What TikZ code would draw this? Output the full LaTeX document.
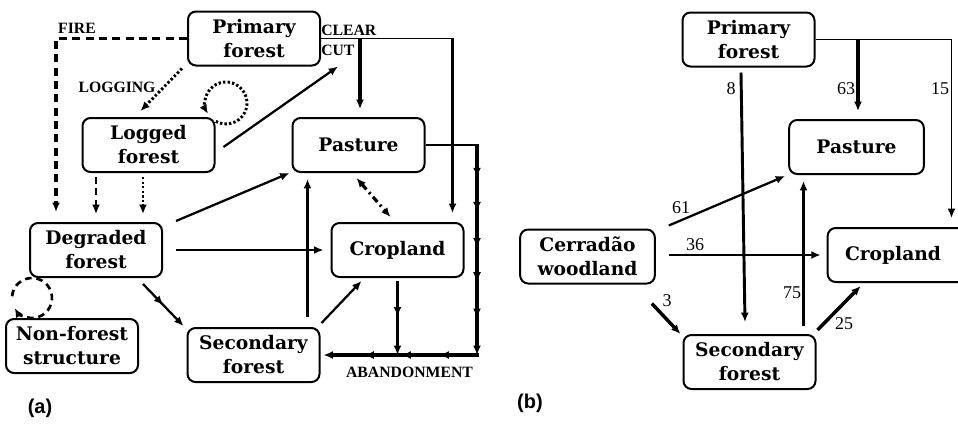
\documentclass[tikz,border=0pt]{standalone}
\usepackage{fontspec}
\setmainfont{Liberation Serif}
\newfontfamily\boxfont{DejaVu Serif}
\newfontfamily\labsans{Liberation Sans}
\usetikzlibrary{arrows.meta,calc,decorations.markings}
\begin{document}
\begin{tikzpicture}[x=0.75pt,y=-0.75pt,
  box/.style={draw,line width=1.5pt,rounded corners=6pt,minimum width=99pt,minimum height=40.5pt,align=center,inner sep=0pt,font=\boxfont\bfseries\fontsize{14}{18}\selectfont},
  lab/.style={inner sep=0pt,font=\bfseries\fontsize{11.8}{12}\selectfont},
  num/.style={inner sep=0pt,font=\fontsize{13.5}{14}\selectfont},
  plab/.style={inner sep=0pt,font=\labsans\bfseries\fontsize{15}{16}\selectfont},
  arr/.style={-{Latex[length=7pt,width=6pt]}},
  arrs/.style={{Latex[length=7pt,width=6pt]}-{Latex[length=7pt,width=6pt]}},
  thinline/.style={line width=1.4pt},
  midline/.style={line width=1.7pt},
  thickline/.style={line width=2.6pt},
  fireline/.style={line width=2.6pt,dash pattern=on 6pt off 4pt},
  dashline/.style={line width=2pt,dash pattern=on 5pt off 3.5pt},
  dotline/.style={line width=2.2pt,dash pattern=on 1.8pt off 1.6pt},
  dashdotline/.style={line width=2.4pt,dash pattern=on 5pt off 3pt on 1.5pt off 3pt},
  midmark/.style={postaction={decorate},decoration={markings,mark=at position #1 with {\arrow{Latex[length=7pt,width=6pt]}}}}
]
\useasboundingbox (0,0) rectangle (958,426);

% ---------- panel (a) ----------
\node[box] (PF) at (254,38.5) {Primary\\forest};
\node[box] (LF) at (148.5,145) {Logged\\forest};
\node[box] (PA) at (358.5,145) {Pasture};
\node[box] (DF) at (96,250) {Degraded\\forest};
\node[box] (CP) at (397.5,250) {Cropland};
\node[box] (NF) at (72,346) {Non-forest\\structure};
\node[box] (SF) at (253.5,355) {Secondary\\forest};

\node[lab] (tFire) at (77,28) {FIRE};
\node[lab] (tLog) at (117,87) {LOGGING};
\node[lab,anchor=west] (tClear) at (321,30) {CLEAR};
\node[lab,anchor=west] (tCut) at (321,50) {CUT};
\node[lab] (tAb) at (409.5,372) {ABANDONMENT};
\node[plab] (ta) at (40,408) {(a)};

% fire
\draw[fireline,arr] (PF.west) -| ($(DF.north west)+(27,-10)$);
% logging
\draw[dotline,arr] ($(PF.south west)+(-5,2)$) -- ($(LF.north)+(-8,-6)$);
% dotted self loop
\coordinate (lpL) at (226,103);
\draw[dotline,arr] ($(lpL)+(119:21)$) arc[start angle=119,end angle=-211,radius=21];
% logged -> clear cut
\draw[midline,arr] ($(LF.east)+(8,2)$) -- ($(PF.south east)+(17,0)$);
% clear cut
\coordinate (ccB) at ($(CP.north east)+(-12,-9)$);
\coordinate (ccR) at (ccB |- PF.east);
\draw[thinline] (PF.east) -- (ccR);
\draw[thickline,arr] ($(ccR)+(0,-1)$) -- (ccB);
\coordinate (ppB) at ($(PA.north)+(1.5,-8)$);
\draw[thickline,arr] (ppB |- PF.east) -- (ppB);
% logged -> degraded
\coordinate (d1) at ($(DF.north)+(0,-8)$);
\draw[dashline,arr,shorten <=3pt] (d1 |- LF.south) -- (d1);
\coordinate (d2) at ($(DF.north)+(47,-8)$);
\draw[dotline,arr,shorten <=3pt] (d2 |- LF.south) -- (d2);
% non-forest dashed loop
\coordinate (lpN) at (32,298);
\draw[dashline,arr] ($(lpN)+(-175:20)$) arc[start angle=-175,end angle=150,radius=20];
% degraded -> others
\draw[midline,arr] ($(DF.north east)+(13,-1)$) -- ($(PA.south west)+(-2,0)$);
\draw[midline,arr] ($(DF.east)+(13,0)$) -- ($(CP.west)+(-7,0)$);
\draw[midline,arr,midmark=0.5] ($(DF.south east)+(-20,6)$) -- ($(SF.north west)+(-3,-1)$);
% secondary -> pasture, cropland
\coordinate (sp) at ($(SF.north east)+(-13,0)$);
\draw[thickline,arr,shorten <=7.5pt,shorten >=4.5pt] (sp) -- (sp |- PA.south);
\draw[midline,arr] ($(SF.north east)+(1,-4)$) -- ($(CP.south west)+(31,3)$);
% pasture <-> cropland
\draw[dashdotline,arrs] ($(PA.south)+(-2,5)$) -- ($(CP.north)+(-7,-5)$);
% abandonment
\coordinate (abR) at (477,355);
\coordinate (abT) at (abR |- PA.east);
\draw[thinline] (PA.east) -- (abT);
\draw[thickline,arr,postaction={decorate},decoration={markings,
  mark=at position 0.157 with {\arrow{Latex[length=7pt,width=6pt]}},
  mark=at position 0.319 with {\arrow{Latex[length=7pt,width=6pt]}},
  mark=at position 0.490 with {\arrow{Latex[length=7pt,width=6pt]}},
  mark=at position 0.652 with {\arrow{Latex[length=7pt,width=6pt]}},
  mark=at position 0.824 with {\arrow{Latex[length=7pt,width=6pt]}}}]
  ($(abT)+(0,-1)$) -- (abR);
\draw[thickline,arr,shorten >=2.25pt,postaction={decorate},decoration={markings,
  mark=at position 0.247 with {\arrow{Latex[length=7pt,width=6pt]}},
  mark=at position 0.487 with {\arrow{Latex[length=7pt,width=6pt]}},
  mark=at position 0.722 with {\arrow{Latex[length=7pt,width=6pt]}}}]
  ($(abR)+(1.5,0)$) -- (SF.east);
\coordinate (cd) at (CP.south |- abR);
\draw[midline,arr,shorten <=2.25pt,midmark=0.5] (CP.south) -- (cd);

% ---------- panel (b) ----------
\node[box] (PF2) at (748.5,39.5) {Primary\\forest};
\node[box,minimum width=101pt] (PA2) at (856.5,147) {Pasture};
\node[box,minimum width=101pt] (CW) at (587.5,256.5) {Cerradão\\woodland};
\node[box,minimum width=104pt] (CR2) at (897,255) {\hspace*{-6pt}Cropland};
\node[box] (SF2) at (749.5,362) {Secondary\\forest};
\node[plab] (tb) at (530,403) {(b)};

% 8
\draw[thickline,line width=2.2pt,arr] ($(PF2.south)+(-7.5,5)$) -- ($(SF2.north)+(-4.5,-12)$);
% 15 and 63
\coordinate (r15) at ($(PF2.east)+(136,178.5)$);
\coordinate (r15t) at (r15 |- PF2.east);
\draw[thinline] (PF2.east) -- (r15t);
\draw[thinline,arr] ($(r15t)+(0,-1)$) -- (r15);
\coordinate (p63) at ($(PA2.north)+(1.5,-8)$);
\draw[thickline,line width=3pt,arr] (p63 |- PF2.east) -- (p63);
% 61, 36, 3
\draw[midline,arr] ($(CW.north east)+(13,-3)$) -- ($(PA2.south west)+(-3,1)$);
\draw[midline,arr] ($(CW.east)+(13,-1.5)$) -- ($(CR2.west)+(-6,0)$);
\draw[thickline,arr] ($(CW.south east)+(-4,19)$) -- ($(SF2.north west)+(-2,0)$);
% 75, 25
\coordinate (s75) at ($(SF2.north east)+(-13,0)$);
\draw[midline,arr,shorten <=6pt,shorten >=4.5pt] (s75) -- (s75 |- PA2.south);
\draw[thickline,arr] ($(SF2.north east)+(1,-4)$) -- ($(CR2.south west)+(34,3)$);

\node[num] (n8) at (731,89) {8};
\node[num] (n63) at (846,89) {63};
\node[num] (n15) at (940,89) {15};
\node[num] (n61) at (681,208) {61};
\node[num] (n36) at (695,245) {36};
\node[num] (n3) at (667,301) {3};
\node[num] (n75) at (792,293) {75};
\node[num] (n25) at (844,324) {25};
\end{tikzpicture}
\end{document}
